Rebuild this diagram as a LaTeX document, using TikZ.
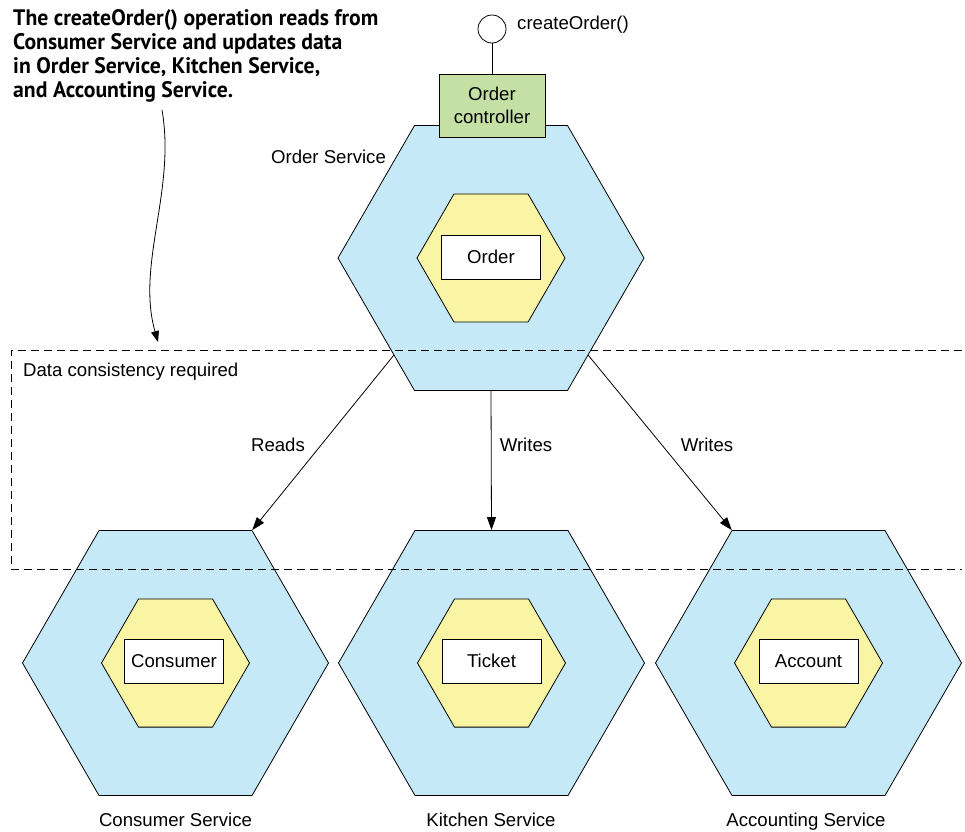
\documentclass[tikz,border=0pt]{standalone}
\usepackage{fontspec}
\setmainfont{Liberation Sans}
\newfontfamily\annfont[FakeStretch=0.97]{PT Sans}
\usetikzlibrary{shapes.geometric,arrows.meta}
\definecolor{hexblue}{RGB}{198,233,248}
\definecolor{hexyellow}{RGB}{250,245,165}
\definecolor{ctrlgreen}{RGB}{197,224,165}
\begin{document}
\begin{tikzpicture}[x=1pt,y=-1pt,
  outerhex/.style={regular polygon, regular polygon sides=6, minimum size=306pt, inner sep=0pt, draw=black, fill=hexblue, line width=0.8pt},
  innerhex/.style={regular polygon, regular polygon sides=6, minimum size=148pt, inner sep=0pt, draw=black, fill=hexyellow, line width=0.8pt},
  entity/.style={draw=black, fill=white, minimum width=99pt, minimum height=44pt, inner sep=0pt, line width=0.8pt},
  lbl/.style={inner sep=0pt, text height=13.5pt, text depth=3.5pt},
  conn/.style={line width=0.8pt, -{Triangle[length=13pt,width=9pt]}},
  font=\fontsize{18.6}{23}\selectfont
]
\useasboundingbox (0,0) rectangle (965,831);

% Order Service
\node[outerhex] (ord) at (491,258) {};
\node[innerhex] (ordin) at (491,258) {};
\node[entity] (ordent) at (491,257) {Order};
\node[draw=black, fill=ctrlgreen, minimum width=106pt, minimum height=63pt, inner sep=0pt, align=center, line width=0.8pt] (ctrl) at (492,105.5) {Order\\controller};
\node[circle, draw=black, fill=white, minimum size=28pt, inner sep=0pt, line width=0.8pt] (iface) at (492,29) {};
\draw[line width=0.8pt] (iface) -- (ctrl);
\node[lbl, anchor=west] (ifacelbl) at (517,24) {createOrder()};
\node[lbl] (ordlbl) at (328.5,158) {Order Service};

% Bottom services
\node[outerhex] (cons) at (175.5,663) {};
\node[innerhex] (consin) at (175.5,663) {};
\node[entity] (consent) at (174,661) {Consumer};
\node[lbl] (conslbl) at (175.5,821) {Consumer Service};

\node[outerhex] (kit) at (491.5,663) {};
\node[innerhex] (kitin) at (491.5,663) {};
\node[entity] (kitent) at (491.5,661) {Ticket};
\node[lbl] (kitlbl) at (491,821) {Kitchen Service};

\node[outerhex] (acct) at (808.5,663) {};
\node[innerhex] (acctin) at (808.5,663) {};
\node[entity] (acctent) at (808.5,661) {Account};
\node[lbl] (acctlbl) at (806,821) {Accounting Service};

% Data consistency region
\coordinate (dtr) at (962,350);
\coordinate (dtl) at (11,350);
\coordinate (dbl) at (11,569);
\coordinate (dbr) at (962,569);
\draw[line width=0.8pt, dash pattern=on 8pt off 5pt] (dtr) -- (dtl) -- (dbl) -- (dbr);
\node[lbl, anchor=west] (dclbl) at (23,371) {Data consistency required};

% Connectors
\draw[conn] (ord.225) -- (cons.60);
\draw[conn] (ord.south) -- (kit.north);
\draw[conn] (ord.315) -- (acct.120);
\node[lbl] (rdlbl) at (278,446) {Reads};
\node[lbl] (wr1lbl) at (526,446) {Writes};
\node[lbl] (wr2lbl) at (707,446) {Writes};

% Annotation
\node[inner sep=0pt, anchor=north west, align=left, font={\annfont\bfseries\fontsize{22.4}{24}\selectfont}] (ann) at (13,9.5)
 {The createOrder() operation reads from\\Consumer Service and updates data\\in Order Service, Kitchen Service,\\and Accounting Service.};
\coordinate (annstart) at (162,110);
\coordinate (anntip) at (158,342);
\draw[line width=0.8pt, -{Triangle[length=11pt,width=8pt]}] (annstart) .. controls (176,190) and (136,265) .. (anntip);
\end{tikzpicture}
\end{document}
